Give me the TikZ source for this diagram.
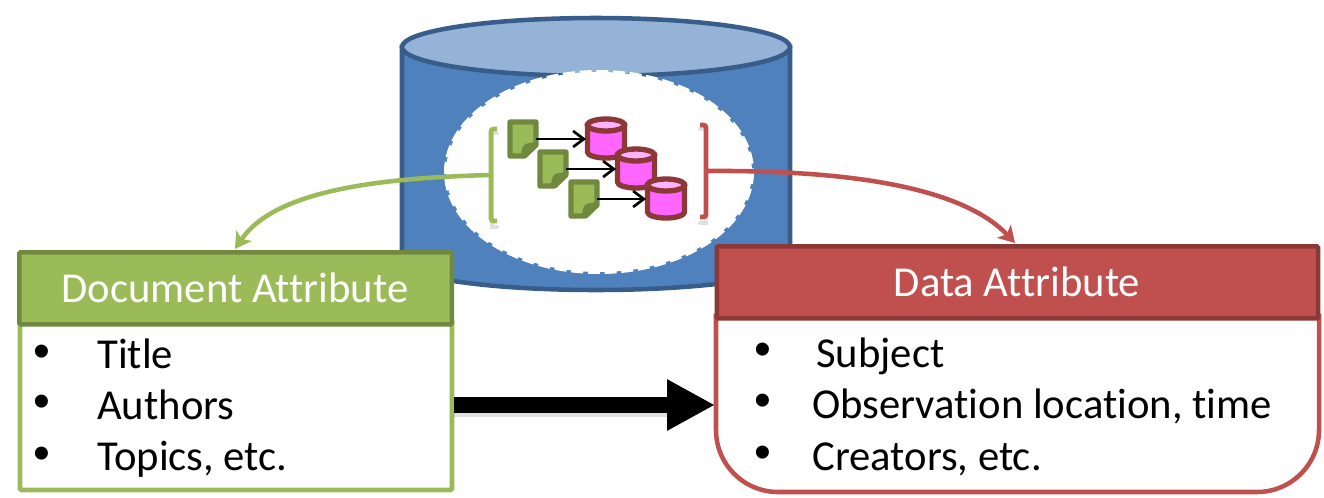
\documentclass[tikz,border=0pt]{standalone}
\usepackage{fontspec}
\setmainfont{Carlito}[Ligatures=NoCommon]
\newfontfamily\bulletfont{Liberation Sans}
\usetikzlibrary{arrows.meta,calc}
\definecolor{cylblue}{HTML}{4F81BD}
\definecolor{cyltop}{HTML}{95B3D7}
\definecolor{cylline}{HTML}{385D8A}
\definecolor{grn}{HTML}{9BBB59}
\definecolor{grndark}{HTML}{71893F}
\definecolor{rd}{HTML}{C0504D}
\definecolor{rddark}{HTML}{8C3836}
\definecolor{mag}{HTML}{FF66FF}
\definecolor{magtop}{HTML}{FFB3FF}
\tikzset{
  headtext/.style={font=\fontsize{32pt}{36pt}\selectfont,text=white,inner sep=0pt},
  itemtext/.style={font=\fontsize{32pt}{36pt}\selectfont,text=black,inner sep=0pt,anchor=base west},
  bulletmark/.style={font=\bulletfont\fontsize{36pt}{40pt}\selectfont,text=black,inner sep=0pt,anchor=center},
  headbox/.style={draw,line width=3.4pt,inner sep=0pt,rounded corners=1pt},
  softshadow/.style={draw=black,opacity=0.12,line cap=round},
  smallarrow/.style={draw=black,line width=2pt,-{Straight Barb[length=8pt,width=12pt,line width=2pt]}},
  curvearrow/.style={line width=3.4pt,-{Stealth[length=12pt,width=14pt,inset=3pt]}},
  docicon/.pic={
    \draw[draw=grndark,fill=grn,line width=4pt,line join=round]
      (-13,-17) -- (13,-17) -- (13,6) -- (1.5,17) -- (-13,17) -- cycle;
    \fill[grndark] (13,3) -- (13,7) -- (2,17) -- (-2,17) .. controls (-2,10) and (0,4) .. (6,4) -- cycle;
    \coordinate (-e) at (13,0);
  },
  cylicon/.pic={
    \draw[draw=rddark,fill=mag,line width=4pt]
      (-18.5,-14) -- (-18.5,13) arc[start angle=180,end angle=0,x radius=18.5,y radius=6] -- (18.5,-14) -- cycle;
    \draw[draw=rddark,fill=magtop,line width=4pt] (0,-14) ellipse[x radius=18.5,y radius=6];
    \coordinate (-w) at (-20,0);
  },
}
\begin{document}
\begin{tikzpicture}[x=0.75pt,y=-0.75pt]
\useasboundingbox (0,0) rectangle (1324,497);
% large cylinder
\draw[draw=cylline,fill=cylblue,line width=3.4pt]
  (402,47) -- (402,262) arc[start angle=180,end angle=0,x radius=194,y radius=28] -- (790,47) -- cycle;
\draw[draw=cylline,fill=cyltop,line width=3.4pt] (596,47) ellipse[x radius=194,y radius=29];
% white ellipse
\draw[draw=white,fill=white,line width=3pt,dash pattern=on 9pt off 3.5pt] (599,172) ellipse[x radius=153,y radius=100];
% icons
\pic (d1) at (523,139) {docicon};
\pic (d2) at (553,169) {docicon};
\pic (d3) at (584,199) {docicon};
\pic (c1) at (606,139) {cylicon};
\pic (c2) at (636,169) {cylicon};
\pic (c3) at (666,199) {cylicon};
\draw[smallarrow] (d1-e) -- (c1-w);
\draw[smallarrow] (d2-e) -- (c2-w);
\draw[smallarrow] (d3-e) -- (c3-w);
% brackets
\coordinate (lbr) at (490,175);
\coordinate (rbr) at (707,171);
\draw[softshadow,line width=3pt] (497,133) -- (492,133) -- (492,227) -- (497,227);
\draw[softshadow,line width=3pt] (700,129) -- (706,129) -- (706,223) -- (700,223);
\draw[draw=grn,line width=3.6pt,rounded corners=2pt] (497,129) -- (491,129) -- (491,221) -- (497,221);
\draw[draw=rd,line width=3.6pt,rounded corners=2pt] (700,125) -- (706,125) -- (706,217) -- (700,217);
% left box
\draw[draw=grn,fill=white,line width=3.4pt,rounded corners=1pt] (20,320) rectangle (452,490);
\node[headbox,draw=grndark,fill=grn,minimum width=324.5pt,minimum height=54pt,anchor=north west] (dochead) at (17,250) {};
\node[headtext] (doctitle) at (235,288) {Document Attribute};
% right box
\draw[draw=rd,fill=white,line width=3.4pt]
  (716,316) -- (716,430) arc[start angle=180,end angle=90,x radius=62,y radius=62] -- (1257,492)
  arc[start angle=90,end angle=0,x radius=62,y radius=62] -- (1319,316) -- cycle;
\node[headbox,draw=rddark,fill=rd,minimum width=451pt,minimum height=54pt,anchor=north west] (datahead) at (714.5,244) {};
\node[headtext] (datatitle) at (1017,282) {Data Attribute};
% curved connectors
\coordinate (docin) at (235,249);
\coordinate (datain) at (1015,243);
\draw[curvearrow,draw=grn] (lbr) .. controls (380,178) and (275,190) .. (docin);
\draw[curvearrow,draw=rd] (rbr) .. controls (840,170) and (960,185) .. (datain);
% thick arrow
\coordinate (arrowstart) at (454,405);
\coordinate (arrowend) at (715,405);
\fill[black,opacity=0.12] (454,403) rectangle (672,417);
\draw[line width=12pt,-{Triangle[length=36pt,width=36pt]},draw=black,fill=black] (arrowstart) -- (arrowend);
% items left
\node[bulletmark] (b1) at (42,356) {•};
\node[bulletmark] (b2) at (42,406) {•};
\node[bulletmark] (b3) at (42,458) {•};
\node[itemtext] (t1) at (97,368) {Title};
\node[itemtext] (t2) at (97,419) {Authors};
\node[itemtext] (t3) at (97,470) {Topics, etc.};
% items right
\node[bulletmark] (b4) at (763,354) {•};
\node[bulletmark] (b5) at (763,405) {•};
\node[bulletmark] (b6) at (763,457) {•};
\node[itemtext] (t4) at (816,367) {Subject};
\node[itemtext] (t5) at (812,418) {Observation location, time};
\node[itemtext] (t6) at (812,470) {Creators, etc.};
\end{tikzpicture}
\end{document}
